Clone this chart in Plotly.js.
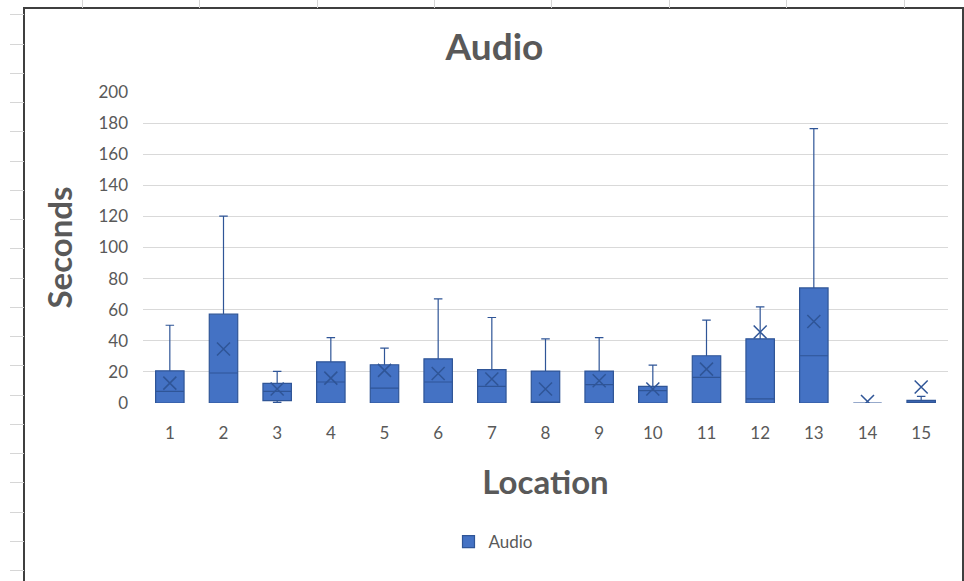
<!DOCTYPE html>
<html>
<head>
<meta charset="utf-8">
<script src="https://cdn.plot.ly/plotly-3.0.1.min.js"></script>
<style>
  html, body { margin: 0; padding: 0; background: #fff; width: 964px; height: 581px; overflow: hidden; position: relative; }
  .hl { position: absolute; left: 10px; width: 14px; height: 1px; background: #d6d6d6; }
  .vl { position: absolute; top: 0; width: 1px; height: 8px; background: #d6d6d6; }
  #frame { position: absolute; left: 23px; top: 7px; width: 937px; height: 580px;
           border: 2px solid #3f3f3f; border-bottom: none; background: #fff; }
  #chart { width: 937px; height: 572px; }
</style>
</head>
<body>
<div id="frame"><div id="chart"></div></div>
<script>
// Worksheet cell lines peeking out around the chart frame
for (let i = 0; i < 20; i++) {
  const d = document.createElement('div');
  d.className = 'hl';
  d.style.top = (14.3 + 29.25 * i).toFixed(1) + 'px';
  document.body.appendChild(d);
}
[82, 199, 317, 434, 551, 669, 786, 904].forEach(function (x) {
  const d = document.createElement('div');
  d.className = 'vl';
  d.style.left = x + 'px';
  document.body.appendChild(d);
});

// Audio durations (seconds) per location: five-number summary plus mean
const locations = ['1','2','3','4','5','6','7','8','9','10','11','12','13','14','15'];
const lowerWhisker = [0, 0, 0.4, 0, 0, 0, 0, 0, 0, 0, 0, 0, 0, 0, 0];
const q1Values     = [0, 0, 1.5, 0, 0, 0, 0, 0, 0, 0, 0, 0, 0, 0, 0];
const medianValues = [7.5, 19.3, 7.5, 13.5, 9.6, 13.5, 10.7, 0, 11.8, 8, 16.5, 2.6, 30.4, 0, 0.5];
const q3Values     = [20.7, 57.1, 12.6, 26.5, 24.6, 28.4, 21.4, 20.5, 20.5, 10.7, 30.4, 41.3, 74, 0, 1.7];
const upperWhisker = [50, 120.2, 20.3, 42, 35.3, 67, 55, 41.3, 42.1, 24.4, 53.3, 61.8, 176.5, 0, 4.3];
const meanValues   = [12.8, 34.7, 9, 16, 21, 19, 15.4, 9, 14.3, 9, 21.8, 45.6, 52.4, 1, 10.3];

const textGrey = '#595959';
const fontFam = 'Lato, "Open Sans", sans-serif';

const boxTrace = {
  type: 'box',
  name: 'Audio',
  x: locations,
  lowerfence: lowerWhisker,
  q1: q1Values,
  median: medianValues,
  q3: q3Values,
  upperfence: upperWhisker,
  boxpoints: false,
  width: 0.53,
  whiskerwidth: 0.3,
  fillcolor: '#4472C4',
  line: { color: '#2F5597', width: 1.2 },
  hoverinfo: 'skip'
};

const meanTrace = {
  type: 'scatter',
  mode: 'markers',
  name: 'Mean',
  x: locations,
  y: meanValues,
  showlegend: false,
  marker: { symbol: 'x-thin-open', size: 13, color: '#2F5597', line: { color: '#2F5597', width: 1.5 } },
  hoverinfo: 'skip'
};

const layout = {
  width: 937,
  height: 572,
  margin: { l: 118, r: 14, t: 83, b: 177.5 },
  paper_bgcolor: '#fff',
  plot_bgcolor: '#fff',
  font: { family: fontFam, color: textGrey },
  title: {
    text: 'Audio',
    font: { family: fontFam, size: 37, color: textGrey, weight: 'bold' },
    x: 0.501, xanchor: 'center',
    y: 1 - 38 / 572, yanchor: 'middle', yref: 'container'
  },
  xaxis: {
    type: 'category',
    range: [-0.5, 14.5],
    showgrid: false,
    zeroline: false,
    showline: false,
    ticks: '',
    ticklabelstandoff: 18,
    tickfont: { family: fontFam, size: 17, color: textGrey },
    title: { text: 'Location', font: { family: fontFam, size: 33, color: textGrey, weight: 'bold' }, standoff: 28 }
  },
  yaxis: {
    range: [0, 200],
    dtick: 20,
    showgrid: true,
    gridcolor: '#D9D9D9',
    gridwidth: 1,
    zeroline: false,
    showline: false,
    ticks: '',
    ticklabelstandoff: 14,
    tickfont: { family: fontFam, size: 17, color: textGrey },
    title: { text: 'Seconds', font: { family: fontFam, size: 33, color: textGrey, weight: 'bold' }, standoff: 15 }
  },
  showlegend: true,
  legend: {
    orientation: 'h',
    xref: 'container', yref: 'container',
    x: 0.5, xanchor: 'center',
    y: 1 - 533 / 572, yanchor: 'middle',
    font: { family: fontFam, size: 17, color: textGrey }
  }
};

Plotly.newPlot('chart', [boxTrace, meanTrace], layout, { displayModeBar: false, staticPlot: true });
</script>
</body>
</html>
